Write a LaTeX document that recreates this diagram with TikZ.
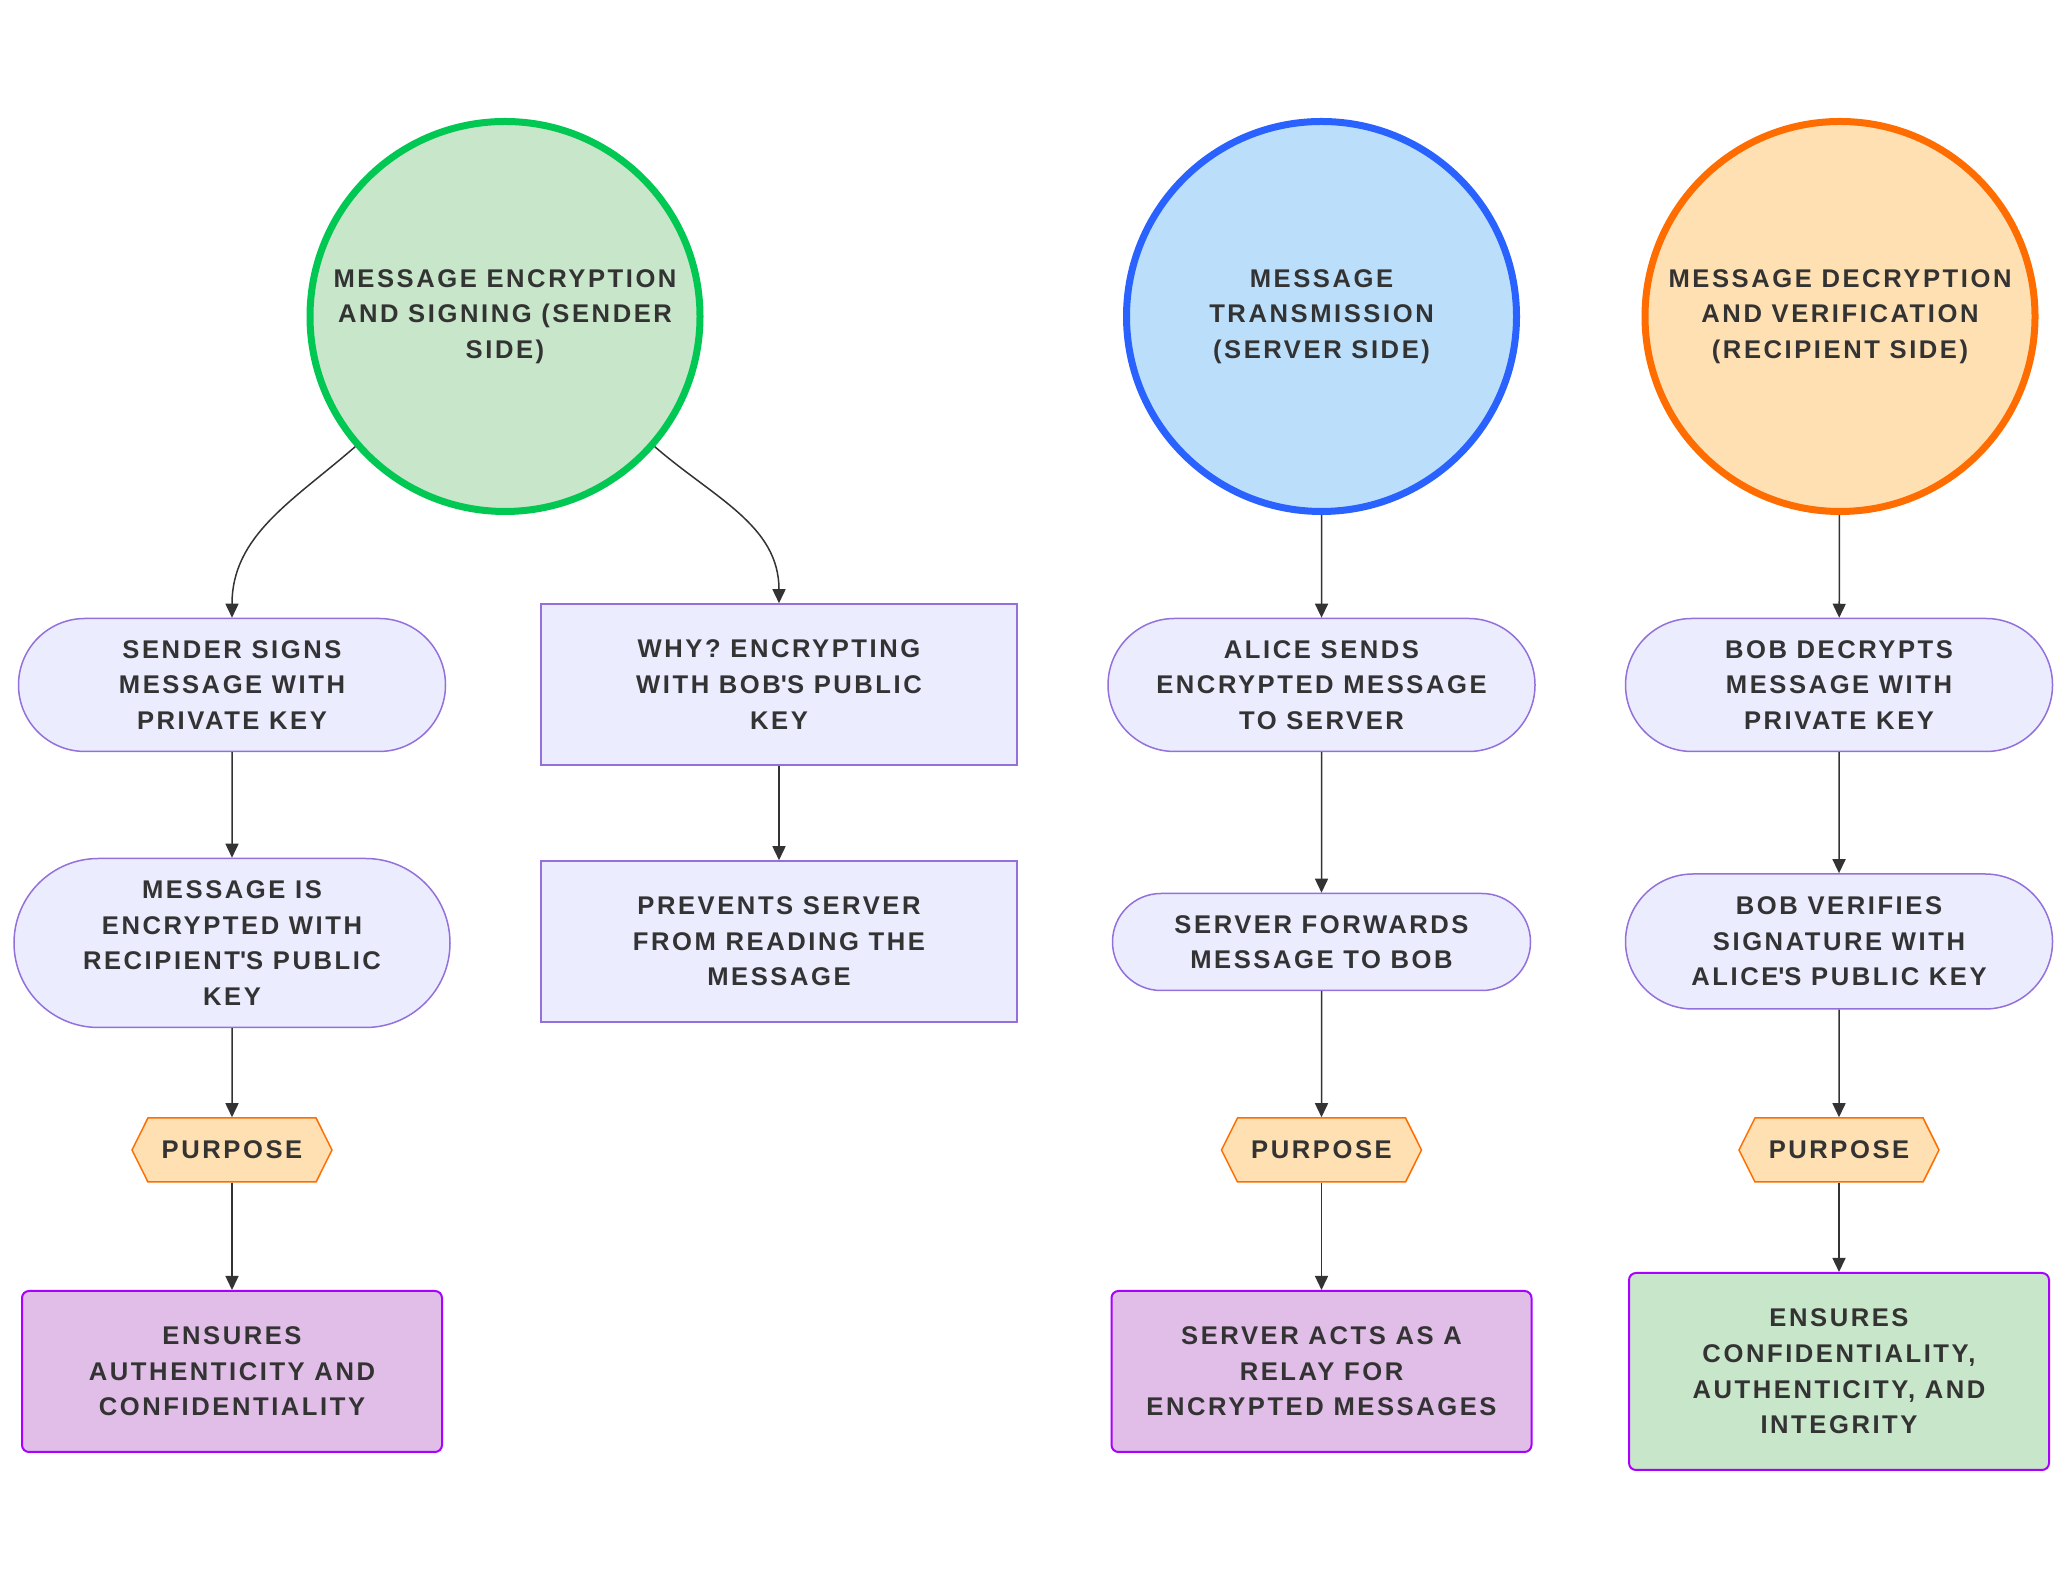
\documentclass[tikz,border=0pt]{standalone}
\usepackage{fontspec}
\setmainfont{Liberation Sans}[LetterSpace=10]
\usetikzlibrary{shapes,positioning,arrows.meta}
\definecolor{penColor}{HTML}{333333}
\definecolor{nodeFill}{HTML}{ECECFF}
\definecolor{nodeLine}{HTML}{9370DB}
\definecolor{sendFill}{HTML}{C8E6C9}
\definecolor{sendLine}{HTML}{00C853}
\definecolor{serverFill}{HTML}{BBDEFB}
\definecolor{serverLine}{HTML}{2962FF}
\definecolor{recvFill}{HTML}{FFE0B2}
\definecolor{recvLine}{HTML}{FF6D00}
\definecolor{outFill}{HTML}{E1BEE7}
\definecolor{outLine}{HTML}{AA00FF}
\tikzset{>={Triangle[length=14pt,width=13pt]}}
\tikzset{
  every node/.style={text=penColor,font=\fontsize{25.6}{35.6}\selectfont\bfseries,align=center},
  phase/.style={circle,line width=7pt,minimum size=390pt,inner sep=0pt},
  stadium/.style={rounded rectangle,draw=nodeLine,fill=nodeFill,line width=1.5pt,minimum width=427pt,minimum height=133pt,inner sep=0pt},
  plainbox/.style={rectangle,draw=nodeLine,fill=nodeFill,line width=1.5pt,minimum width=476pt,minimum height=161pt,inner sep=0pt},
  purpose/.style={signal,signal to=west and east,signal pointer angle=127,draw=recvLine,fill=recvFill,line width=1.5pt,minimum width=200pt,minimum height=64pt,inner sep=0pt},
  outcome/.style={rectangle,rounded corners=7pt,draw=outLine,fill=outFill,line width=2pt,minimum width=420pt,minimum height=161pt,inner sep=0pt},
  flow/.style={->,draw=penColor,line width=1.5pt}
}
\begin{document}
\begin{tikzpicture}[x=1pt,y=1pt]
\useasboundingbox (0,0) rectangle (2068,1592);
% the three phases
\node[phase,draw=sendLine,fill=sendFill] (send) at (505,1275.5) {MESSAGE ENCRYPTION\\AND SIGNING (SENDER\\SIDE)};
\node[phase,draw=serverLine,fill=serverFill] (server) at (1321.5,1275.5) {MESSAGE\\TRANSMISSION\\(SERVER SIDE)};
\node[phase,draw=recvLine,fill=recvFill] (recv) at (1840,1275.5) {MESSAGE DECRYPTION\\AND VERIFICATION\\(RECIPIENT SIDE)};
% sender side
\node[stadium] (signs) at (232,907) {SENDER SIGNS\\MESSAGE WITH\\PRIVATE KEY};
\node[stadium,minimum width=436pt,minimum height=169pt] (encrypts) at (232,649) {MESSAGE IS\\ENCRYPTED WITH\\RECIPIENT\textquotesingle S PUBLIC\\KEY};
\node[purpose] (purposeA) at (232,442) {PURPOSE};
\node[outcome] (ensuresA) at (232,220.5) {ENSURES\\AUTHENTICITY AND\\CONFIDENTIALITY};
\node[plainbox] (why) at (779,907.5) {WHY? ENCRYPTING\\WITH BOB\textquotesingle S PUBLIC\\KEY};
\node[plainbox] (prevents) at (779,650.5) {PREVENTS SERVER\\FROM READING THE\\MESSAGE};
% server side
\node[stadium] (alice) at (1321.5,907) {ALICE SENDS\\ENCRYPTED MESSAGE\\TO SERVER};
\node[stadium,minimum width=418pt,minimum height=97pt] (forwards) at (1321.5,650) {SERVER FORWARDS\\MESSAGE TO BOB};
\node[purpose] (purposeB) at (1321.5,442) {PURPOSE};
\node[outcome] (relay) at (1321.5,220.5) {SERVER ACTS AS A\\RELAY FOR\\ENCRYPTED MESSAGES};
% recipient side
\node[stadium] (decrypts) at (1839,907) {BOB DECRYPTS\\MESSAGE WITH\\PRIVATE KEY};
\node[stadium,minimum height=135pt] (verifies) at (1839,650.5) {BOB VERIFIES\\SIGNATURE WITH\\ALICE\textquotesingle S PUBLIC KEY};
\node[purpose] (purposeC) at (1839,442) {PURPOSE};
\node[outcome,fill=sendFill,minimum height=197pt] (ensuresC) at (1839,220.5) {ENSURES\\CONFIDENTIALITY,\\AUTHENTICITY, AND\\INTEGRITY};
% connectors
\draw[flow] (send.221) to[out=221,in=90] (signs.north);
\draw[flow] (send.319) to[out=319,in=90] (why.north);
\draw[flow] (signs) -- (encrypts);
\draw[flow] (encrypts) -- (purposeA);
\draw[flow] (purposeA) -- (ensuresA);
\draw[flow] (why) -- (prevents);
\draw[flow] (server) -- (alice);
\draw[flow] (alice) -- (forwards);
\draw[flow] (forwards) -- (purposeB);
\draw[flow] (purposeB) -- (relay);
\draw[flow] (recv) -- (decrypts);
\draw[flow] (decrypts) -- (verifies);
\draw[flow] (verifies) -- (purposeC);
\draw[flow] (purposeC) -- (ensuresC);
\end{tikzpicture}
\end{document}
